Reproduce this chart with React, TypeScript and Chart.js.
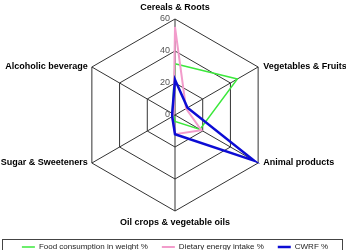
import React, { useEffect, useRef } from 'react';
import { Chart, registerables } from 'chart.js';

Chart.register(...registerables);

const categories = [
  'Cereals & Roots',
  'Vegetables & Fruits',
  'Animal products',
  'Oil crops & vegetable oils',
  'Sugar & Sweeteners',
  'Alcoholic beverage',
];
const seriesNames = ['Food consumption in weight %', 'Dietary energy intake %', 'CWRF %'];
const foodWeight = [32, 45, 18, 4, 1, 2];
const energyIntake = [55, 8, 19, 12, 2, 1];
const cwrf = [22, 9, 57, 12, 2, 2];
const tickValues = [0, 20, 40, 60];

const FONT = '"Liberation Sans", Arial, Helvetica, sans-serif';
const GRID = '#333333';

const labelPlugin = {
  id: 'radarLabels',
  afterDraw(chart: any) {
    const scale = chart.scales.r;
    const ctx = chart.ctx;
    ctx.save();
    ctx.font = `bold 9px ${FONT}`;
    ctx.fillStyle = '#000';
    ctx.textBaseline = 'middle';
    categories.forEach((label, i) => {
      const p = scale.getPointPosition(i, scale.drawingArea);
      const dx = p.x - scale.xCenter;
      if (Math.abs(dx) < 1) {
        ctx.textAlign = 'center';
        const up = p.y < scale.yCenter;
        ctx.fillText(label, p.x, up ? p.y - 11 : p.y + 12);
      } else if (dx > 0) {
        ctx.textAlign = 'left';
        ctx.fillText(label, p.x + 5, p.y);
      } else {
        ctx.textAlign = 'right';
        ctx.fillText(label, p.x - 4, p.y);
      }
    });
    const lg = chart.legend;
    if (lg && lg.legendHitBoxes && lg.legendHitBoxes.length) {
      const top = lg.legendHitBoxes[0].top;
      ctx.strokeStyle = '#444';
      ctx.lineWidth = 1;
      ctx.strokeRect(2.5, Math.round(top) - 3.5, 340, 40);
    }
    ctx.restore();
  },
};

export default function App() {
  const ref = useRef<HTMLCanvasElement | null>(null);
  useEffect(() => {
    if (!ref.current) return;
    const chart = new Chart(ref.current, {
      type: 'radar',
      data: {
        labels: categories,
        datasets: [
          {
            label: seriesNames[0],
            data: foodWeight,
            borderColor: '#3be83b',
            backgroundColor: '#3be83b',
            borderWidth: 1.5,
            fill: false,
            pointRadius: 0,
            pointStyle: 'line',
            order: 2,
          },
          {
            label: seriesNames[1],
            data: energyIntake,
            borderColor: '#f29ccb',
            backgroundColor: '#f29ccb',
            borderWidth: 2,
            fill: false,
            pointRadius: 0,
            pointStyle: 'line',
            order: 1,
          },
          {
            label: seriesNames[2],
            data: cwrf,
            borderColor: '#0c0cd4',
            backgroundColor: '#0c0cd4',
            borderWidth: 2.5,
            fill: false,
            pointRadius: 0,
            pointStyle: 'line',
            order: 0,
          },
        ],
      },
      options: {
        animation: false,
        responsive: false,
        devicePixelRatio: 1,
        layout: { padding: { top: 15, left: 4, right: 0, bottom: 0 } },
        elements: { line: { tension: 0 } },
        scales: {
          r: {
            min: 0,
            max: 60,
            afterBuildTicks: (scale: any) => {
              scale.ticks = [{ value: tickValues[0] }, ...tickValues.map((v) => ({ value: v }))];
            },
            ticks: {
              stepSize: 20,
              showLabelBackdrop: false,
              backdropPadding: 0,
              color: '#555',
              font: { family: FONT, size: 9 },
              callback: (v: any) => String(v) + ' '.repeat(4 + 2 * String(v).length),
            },
            grid: {
              color: (c: any) => (c.tick && c.tick.value === 0 ? 'rgba(0,0,0,0)' : GRID),
              lineWidth: 1,
            },
            angleLines: { color: GRID, lineWidth: 1 },
            pointLabels: { display: false },
          },
        },
        plugins: {
          tooltip: { enabled: false },
          legend: {
            position: 'bottom',
            title: { display: true, text: ' ', padding: { top: 1, bottom: 0 }, font: { size: 10 } },
            labels: {
              usePointStyle: true,
              pointStyleWidth: 13,
              padding: 14,
              color: '#222',
              font: { family: FONT, size: 8 },
              sort: (a: any, b: any) => a.datasetIndex - b.datasetIndex,
            },
          },
        },
      },
      plugins: [labelPlugin],
    } as any);
    return () => chart.destroy();
  }, []);
  return (
    <div style={{ position: 'absolute', left: 0, top: 0, width: 346, height: 261 }}>
      <canvas ref={ref} width={346} height={261} style={{ width: 346, height: 261, display: 'block' }} />
    </div>
  );
}
